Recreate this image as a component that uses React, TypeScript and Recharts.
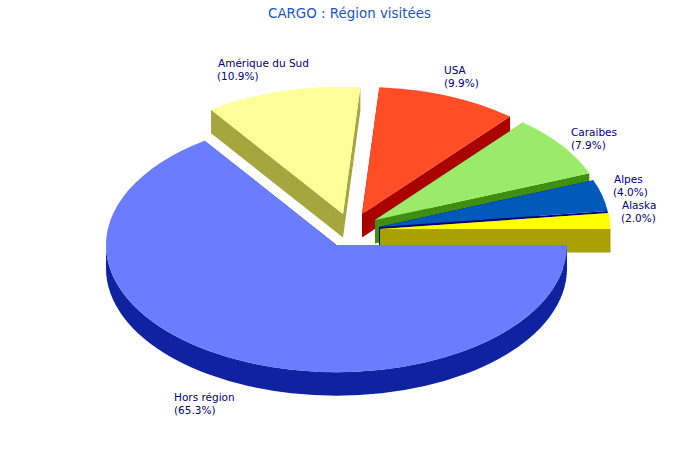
import React from "react";
import { PieChart, Pie } from "recharts";

// Listed in drawing order (back to front), clockwise.
const names = ["Amérique du Sud", "USA", "Caraibes", "Alpes", "Alaska", "Hors région"];
const shares = [10.9, 9.9, 7.9, 4.0, 2.0, 65.3];
const topColors = ["#FFFF99", "#FF4D25", "#9BEB6A", "#0059BB", "#FFFF00", "#6A7CFF"];
const sideColors = ["#A6A63F", "#AA0000", "#3F8F0F", "#000080", "#AAA000", "#0F23A0"];

const title = "CARGO : Région visitées";

const tableData = names.map((name, i) => ({ name, value: shares[i] }));

// Layout
const W = 700;
const H = 460;
const CX = 358;
const CY = 230;
const RX = 230.5;
const TILT = 0.552;
const DEPTH = 23.5;
const START_ANGLE = 124.92;
const explode: Record<string, [number, number]> = {
  Alaska: [22, -1],
  Alpes: [21, -3],
  Caraibes: [17, -10],
  USA: [4, -16],
  "Amérique du Sud": [-15, -16],
  "Hors région": [-21.5, 15],
};
const labelAt: Record<string, [number, number, number]> = {
  Alaska: [621, 209, 1],
  Alpes: [613, 183, 1],
  Caraibes: [571, 136, 0],
  USA: [444, 74, 0],
  "Amérique du Sud": [217, 67, 1],
  "Hors région": [174, 401, 0],
};
const FONT = "'DejaVu Sans', sans-serif";

const rad = (d: number) => (d * Math.PI) / 180;

function Slice3D(props: any) {
  const { outerRadius } = props;
  const lo = Math.min(props.startAngle, props.endAngle);
  const hi = Math.max(props.startAngle, props.endAngle);
  const name: string = props.payload?.name ?? props.name;
  const i = names.indexOf(name);
  const [dx, dy] = explode[name];
  const x0 = props.cx + dx;
  const y0 = props.cy + dy;
  const rx = outerRadius;
  const ry = outerRadius * TILT;
  const pt = (a: number, d = 0): [number, number] => [
    x0 + rx * Math.cos(rad(a)),
    y0 - ry * Math.sin(rad(a)) + d,
  ];
  const arcTo = (a0: number, a1: number, d: number, reverse = false) => {
    const large = Math.abs(a1 - a0) > 180 ? 1 : 0;
    const [x, y] = reverse ? pt(a0, d) : pt(a1, d);
    return `A${rx} ${ry} 0 ${large} ${reverse ? 1 : 0} ${x} ${y}`;
  };
  const ps = pt(lo);
  const pe = pt(hi);
  const top = `M${x0} ${y0}L${ps[0]} ${ps[1]}${arcTo(lo, hi, 0)}Z`;
  const edge = (p: [number, number]) =>
    `M${x0} ${y0}L${p[0]} ${p[1]}L${p[0]} ${p[1] + DEPTH}L${x0} ${y0 + DEPTH}Z`;
  // Outer rim: only the part of the arc facing the viewer (lower half).
  const from = Math.max(lo, -180);
  const to = Math.min(hi, 0);
  let rim = "";
  if (to > from) {
    const a = pt(from);
    const b = pt(to);
    rim = `M${a[0]} ${a[1]}${arcTo(from, to, 0)}L${b[0]} ${b[1] + DEPTH}${arcTo(from, to, DEPTH, true)}Z`;
  }
  return (
    <g>
      <path d={edge(ps)} fill={sideColors[i]} />
      <path d={edge(pe)} fill={sideColors[i]} />
      {rim && <path d={rim} fill={sideColors[i]} />}
      <path d={top} fill={topColors[i]} />
    </g>
  );
}

function SliceLabel(props: any) {
  const name: string = props.payload?.name ?? props.name;
  const [x, y, nudge] = labelAt[name];
  return (
    <text x={x} y={y} fontFamily={FONT} fontSize={10.5} fill="#000080" textAnchor="start">
      <tspan x={x + nudge}>{name}</tspan>
      <tspan x={x} dy={12.5}>{`(${props.value.toFixed(1)}%)`}</tspan>
    </text>
  );
}

export default function App() {
  return (
    <div style={{ position: "absolute", left: 0, top: 0, width: W, height: H, background: "#fff" }}>
      <PieChart width={W} height={H} margin={{ top: 0, right: 0, bottom: 0, left: 0 }}>
        <Pie
          data={tableData}
          dataKey="value"
          nameKey="name"
          cx={CX}
          cy={CY}
          innerRadius={0}
          outerRadius={RX}
          startAngle={START_ANGLE}
          endAngle={START_ANGLE - 360}
          paddingAngle={0}
          stroke="none"
          isAnimationActive={false}
          shape={Slice3D}
          label={SliceLabel}
          labelLine={false}
        />
        <text x={349.5} y={18} textAnchor="middle" fontFamily={FONT} fontSize={13.4} fill="#1A55C8">
          {title}
        </text>
      </PieChart>
    </div>
  );
}
